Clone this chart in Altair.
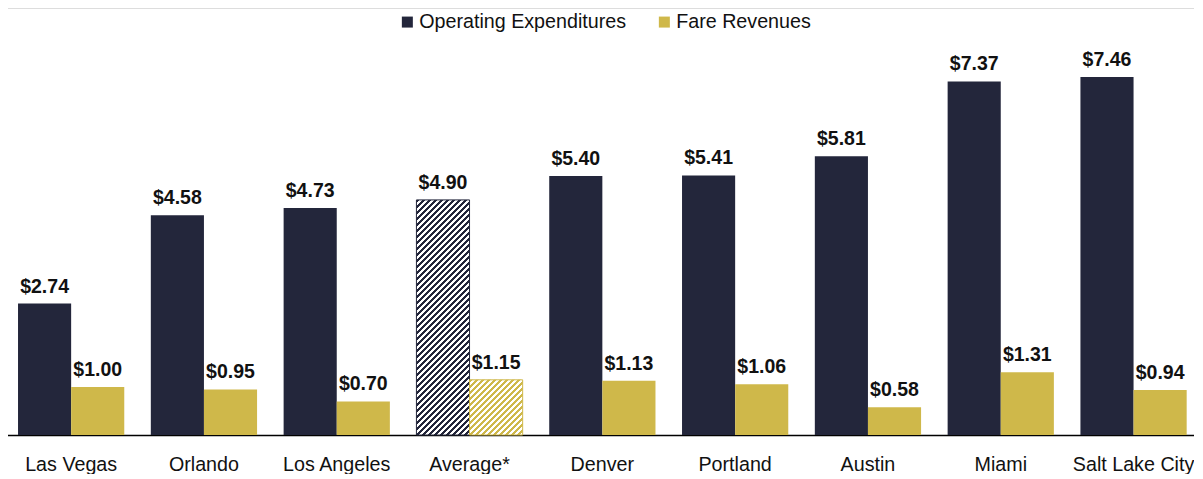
import math
import altair as alt
import pandas as pd

# ---- data ----
cities = ["Las Vegas", "Orlando", "Los Angeles", "Average*", "Denver",
          "Portland", "Austin", "Miami", "Salt Lake City"]
opex = [2.74, 4.58, 4.73, 4.90, 5.40, 5.41, 5.81, 7.37, 7.46]
fare = [1.00, 0.95, 0.70, 1.15, 1.13, 1.06, 0.58, 1.31, 0.94]
series = ["Operating Expenditures", "Fare Revenues"]
highlight = "Average*"

# ---- styling ----
DARK = "#23263b"
GOLD = "#cfb84a"
FONT = "Liberation Sans, Arial, sans-serif"
W, H = 1189, 427
YMAX = 8.9
P_INNER, P_OUTER, ALIGN = 0.2, 0.0766, 0.64

rows = []
for c, o, f in zip(cities, opex, fare):
    rows.append({"city": c, "series": series[0], "value": o})
    rows.append({"city": c, "series": series[1], "value": f})
df = pd.DataFrame(rows)

x_enc = alt.X("city:N", sort=cities,
              scale=alt.Scale(domain=cities, paddingInner=P_INNER,
                              paddingOuter=P_OUTER, align=ALIGN),
              axis=alt.Axis(title=None, labelAngle=0, ticks=False, tickSize=0,
                            labelPadding=19, labelFont=FONT, labelFontSize=19.7,
                            labelColor="#111111", domainColor="#000000",
                            domainWidth=1.6, grid=False, labelLimit=0))
xo_enc = alt.XOffset("series:N", sort=series,
                     scale=alt.Scale(domain=series, paddingInner=0, paddingOuter=0))
y_enc = alt.Y("value:Q", scale=alt.Scale(domain=[0, YMAX], nice=False, zero=True),
              axis=None)

# geometry used only to orient the hatch stripes at 45 degrees
step = W / (len(cities) - P_INNER + 2 * P_OUTER)
bar_w = step * (1 - P_INNER) / 2
px_per_unit = H / YMAX


def hatch(value, color, frac, period=6.0):
    w = bar_w
    h = value * px_per_unit
    L = w + h
    a = L * w / (w * w + h * h)
    b = L * h / (w * w + h * h)
    stops = []
    n = int(math.ceil(L / period)) + 1
    for k in range(n):
        s0 = k * period / L
        s1 = (k * period + frac * period) / L
        s2 = (k + 1) * period / L
        if s0 > 1:
            break
        stops.append({"offset": min(s0, 1), "color": color})
        stops.append({"offset": min(s1, 1), "color": color})
        stops.append({"offset": min(s1, 1), "color": "#ffffff"})
        stops.append({"offset": min(s2, 1), "color": "#ffffff"})
    return alt.LinearGradient(gradient="linear", x1=0, y1=0, x2=a, y2=b, stops=stops)


base = alt.Chart(df).encode(x=x_enc, xOffset=xo_enc, y=y_enc)

solid = base.transform_filter(alt.datum.city != highlight).mark_bar().encode(
    color=alt.Color("series:N", sort=series,
                    scale=alt.Scale(domain=series, range=[DARK, GOLD]),
                    legend=alt.Legend(title=None, orient="none", direction="horizontal",
                                      legendX=392.5, legendY=4, symbolType="square",
                                      symbolSize=121, symbolStrokeWidth=0,
                                      labelFont=FONT, labelFontSize=19.7,
                                      labelColor="#111111", labelOffset=2,
                                      labelLimit=0, columnPadding=28, padding=0))
)

avg_op = opex[cities.index(highlight)]
avg_fare = fare[cities.index(highlight)]

hatched_op = base.transform_filter(
    (alt.datum.city == highlight) & (alt.datum.series == series[0])
).mark_bar(fill=hatch(avg_op, DARK, 0.55), stroke=DARK, strokeWidth=1)

hatched_fare = base.transform_filter(
    (alt.datum.city == highlight) & (alt.datum.series == series[1])
).mark_bar(fill=hatch(avg_fare, GOLD, 0.5), stroke=GOLD, strokeWidth=1)

labels = base.mark_text(baseline="alphabetic", dy=-11, font=FONT, fontSize=19.5,
                        fontWeight="bold", color="#111111").encode(
    text=alt.Text("value:Q", format="$.2f")
)

chart = alt.layer(solid, hatched_op, hatched_fare, labels).properties(
    width=W, height=H,
    padding={"left": -3, "top": 0, "right": 0, "bottom": 0},
).configure_view(stroke=None).configure(background="#ffffff")

chart.save("out.html", embed_options={"renderer": "svg", "actions": False})
